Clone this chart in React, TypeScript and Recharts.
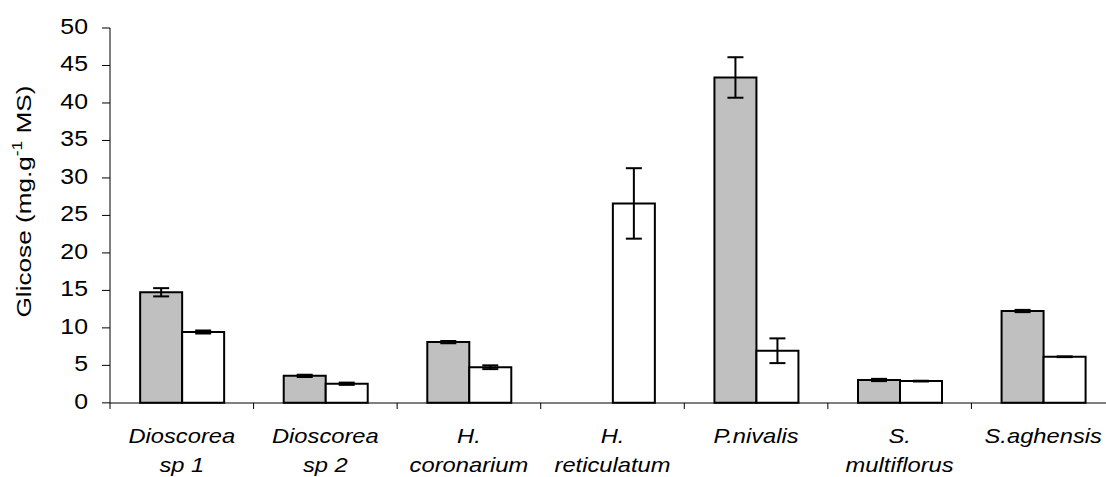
import { Bar, BarChart, ErrorBar, Label, XAxis, YAxis } from "recharts";

// Species sampled, "\n" splits a name onto two label lines
const categories = [
  "Dioscorea\nsp 1",
  "Dioscorea\nsp 2",
  "H.\ncoronarium",
  "H.\nreticulatum",
  "P.nivalis",
  "S.\nmultiflorus",
  "S.aghensis",
];

// Glucose content (mg.g-1 MS), grey and white series with their error margins
const greyValues = [14.75, 3.6, 8.1, 0, 43.4, 3.05, 12.25];
const greyErrors = [0.55, 0.15, 0.15, 0.02, 2.7, 0.15, 0.15];
const whiteValues = [9.45, 2.55, 4.75, 26.6, 6.95, 2.9, 6.15];
const whiteErrors = [0.2, 0.15, 0.25, 4.7, 1.65, 0.05, 0.05];

const yTicks = [0, 5, 10, 15, 20, 25, 30, 35, 40, 45, 50];

const data = categories.map((name, i) => ({
  name,
  grey: greyValues[i],
  greyErr: greyErrors[i],
  white: whiteValues[i],
  whiteErr: whiteErrors[i],
}));

const FONT = '"Liberation Sans", Arial, sans-serif';
const CHART_W = 1120;
const CHART_H = 477;
const MARGIN = { top: 28, right: 5, bottom: 0, left: 0 };
const Y_AXIS_W = 110;
const HALF_BAND =
  (CHART_W - MARGIN.left - MARGIN.right - Y_AXIS_W) / categories.length / 2;
// glyphs in the original run a little wide
const STRETCH = 1.13;

function YTick({ x, y, payload }: any) {
  return (
    <text
      transform={`translate(${x},${y + 6}) scale(${STRETCH},1)`}
      textAnchor="end"
      fontFamily={FONT}
      fontSize={22}
      fill="#000"
    >
      {payload.value}
    </text>
  );
}

function CategoryTick({ x, y, payload }: any) {
  const half = payload.offset || HALF_BAND;
  const lines = String(payload.value).split("\n");
  return (
    <g>
      <line x1={x - half} x2={x - half} y1={y} y2={y + 6} stroke="#000" />
      {lines.map((line, i) => (
        <text
          key={i}
          transform={`translate(${x},${y + 40 + i * 28.5}) scale(${STRETCH},1)`}
          textAnchor="middle"
          fontFamily={FONT}
          fontStyle="italic"
          fontSize={21}
          fill="#000"
        >
          {line}
        </text>
      ))}
    </g>
  );
}

function YTitle({ viewBox }: any) {
  const cx = viewBox.x + 31;
  const cy = viewBox.y + viewBox.height / 2 - 14;
  return (
    <text
      transform={`translate(${cx},${cy}) rotate(-90)`}
      textAnchor="middle"
      fontFamily={FONT}
      fontSize={21}
      fill="#000"
      textLength={232}
      lengthAdjust="spacingAndGlyphs"
    >
      Glicose (mg.g
      <tspan fontSize={14} dy={-9}>
        -1
      </tspan>
      <tspan dy={9}> MS)</tspan>
    </text>
  );
}

export default function App() {
  return (
    <div
      style={{
        position: "fixed",
        left: 0,
        top: 0,
        width: 1106,
        height: 477,
        overflow: "hidden",
        background: "#fff",
      }}
    >
      <BarChart
        width={CHART_W}
        height={CHART_H}
        data={data}
        margin={MARGIN}
        barCategoryGap="21%"
        barGap={0}
      >
        <XAxis
          dataKey="name"
          height={74}
          interval={0}
          tickSize={0}
          tickMargin={0}
          tickLine={false}
          axisLine={{ stroke: "#000" }}
          tick={CategoryTick}
        />
        <YAxis
          type="number"
          domain={[0, 50]}
          ticks={yTicks}
          interval={0}
          width={Y_AXIS_W}
          tickSize={8}
          tickMargin={14}
          axisLine={{ stroke: "#000" }}
          tickLine={{ stroke: "#000" }}
          tick={YTick}
        >
          <Label content={YTitle} />
        </YAxis>
        <Bar
          dataKey="grey"
          fill="#c0c0c0"
          stroke="#000"
          strokeWidth={2}
          isAnimationActive={false}
        >
          <ErrorBar dataKey="greyErr" width={8} stroke="#000" strokeWidth={2} />
        </Bar>
        <Bar
          dataKey="white"
          fill="#fff"
          stroke="#000"
          strokeWidth={2}
          isAnimationActive={false}
        >
          <ErrorBar dataKey="whiteErr" width={8} stroke="#000" strokeWidth={2} />
        </Bar>
      </BarChart>
    </div>
  );
}
